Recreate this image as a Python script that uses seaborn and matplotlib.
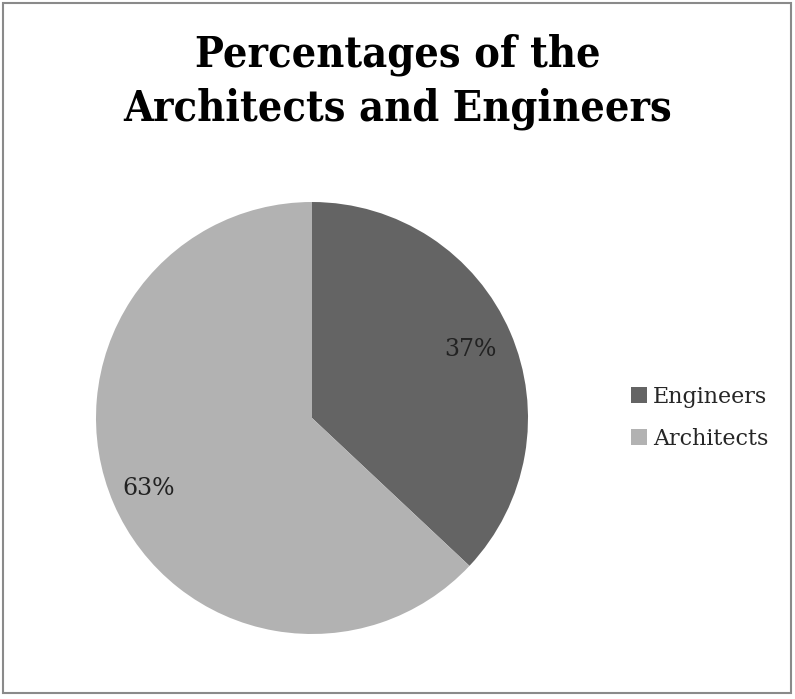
import matplotlib
matplotlib.use("Agg")
import matplotlib.pyplot as plt
from matplotlib.patches import Rectangle
import numpy as np
import seaborn as sns

# Chart data
categories = ["Engineers", "Architects"]
percentages = [37, 63]
colors = ["#646464", "#b2b2b2"]
title_lines = ["Percentages of the", "Architects and Engineers"]

sns.set_theme(style="white")
plt.rcParams["font.family"] = ["DejaVu Serif"]

W, H = 795, 699
fig = plt.figure(figsize=(W / 100, H / 100), dpi=100)
fig.patch.set_facecolor("white")

# Pie area: centre (312, 418) px from top-left, radius 216 px
cx, cy, r = 312, 418, 216
ax = fig.add_axes([(cx - r) / W, (H - cy - r) / H, 2 * r / W, 2 * r / H])
wedges, _, autotexts = ax.pie(
    percentages,
    colors=colors,
    startangle=90,
    counterclock=False,
    autopct=lambda p: f"{p:.0f}%",
    pctdistance=0.8,
    textprops=dict(fontsize=17, color="#222222"),
    wedgeprops=dict(linewidth=0),
)
# fine-tune label radial positions
for w, t, d in zip(wedges, autotexts, [0.80, 0.825]):
    ang = np.deg2rad((w.theta1 + w.theta2) / 2)
    t.set_position((d * np.cos(ang), d * np.sin(ang)))
ax.set_xlim(-1, 1)
ax.set_ylim(-1, 1)
ax.axis("off")

# Title (two centred lines, placed on their baselines)
for line, base in zip(title_lines, [67, 120]):
    fig.text(0.5, 1 - base / H, line, ha="center", va="baseline",
             fontsize=31, fontweight="bold", fontstretch="condensed",
             color="black")

# Legend
handles = [Rectangle((0, 0), 1, 1, facecolor=c, edgecolor="none") for c in colors]
fig.legend(handles, categories, loc="center left",
           bbox_to_anchor=(611 / W, 1 - 418 / H), frameon=False,
           fontsize=16, handlelength=0.7, handleheight=0.7,
           handletextpad=0.3, labelspacing=0.9)

# Outer border
fig.add_artist(Rectangle((3 / W, 6 / H), 788 / W, 690 / H, transform=fig.transFigure,
                         fill=False, edgecolor="#8a8a8a", linewidth=1.5))

fig.savefig("out.png", dpi=100)
